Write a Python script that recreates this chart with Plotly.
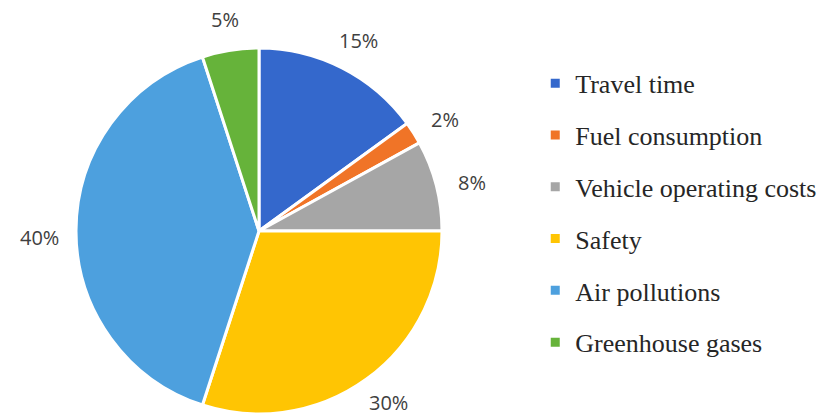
import math
import plotly.graph_objects as go

categories = ["Travel time", "Fuel consumption", "Vehicle operating costs",
              "Safety", "Air pollutions", "Greenhouse gases"]
values = [15, 2, 8, 30, 40, 5]
colors = ["#3468CC", "#F07427", "#A6A6A6", "#FFC503", "#4DA0DE", "#66B33A"]

W, H = 826, 415
dom_x = [76 / W, 442 / W]
dom_y = [1 - 414 / H, 1 - 48 / H]

fig = go.Figure()
fig.add_trace(go.Pie(
    labels=categories, values=values, sort=False, direction="clockwise",
    rotation=0, marker=dict(colors=colors, line=dict(color="white", width=3)),
    textinfo="none", hoverinfo="label+percent", showlegend=False,
    domain=dict(x=dom_x, y=dom_y),
))

# percentage labels positioned from the data (cumulative angles)
cx = (dom_x[0] + dom_x[1]) / 2 * W
cy = (1 - (dom_y[0] + dom_y[1]) / 2) * H
r = min((dom_x[1] - dom_x[0]) * W, (dom_y[1] - dom_y[0]) * H) / 2
total = sum(values)
cum = 0
annotations = []
for v in values:
    mid = (cum + v / 2) / total * 2 * math.pi
    cum += v
    s, c = math.sin(mid), math.cos(mid)
    d = r + 37
    px = cx + d * s
    py = min(cy - d * c + 6, H - 13)
    annotations.append(dict(
        x=px / W, y=1 - py / H, xref="paper", yref="paper",
        text=f"{round(v / total * 100)}%", showarrow=False,
        xanchor="center", yanchor="middle",
        font=dict(family="Open Sans", size=20, color="#404040"),
    ))

# legend entries
for i, (name, col) in enumerate(zip(categories, colors)):
    fig.add_trace(go.Scatter(
        x=[None], y=[None], mode="markers", name=name,
        marker=dict(symbol="square", size=9, color=col),
        legendgroup=f"g{i}", showlegend=True,
    ))

fig.update_layout(
    width=W, height=H, margin=dict(l=0, r=0, t=0, b=0, autoexpand=False),
    paper_bgcolor="white", plot_bgcolor="white",
    xaxis=dict(visible=False), yaxis=dict(visible=False),
    annotations=annotations,
    legend=dict(
        x=0.648, y=0.856, xanchor="left", yanchor="top",
        font=dict(family="Liberation Serif", size=26, color="#262626"),
        tracegroupgap=15, itemwidth=30, bgcolor="rgba(0,0,0,0)",
    ),
)

fig.write_html("out.html", config={"displayModeBar": False},
               post_script="document.body.style.margin='0';")
